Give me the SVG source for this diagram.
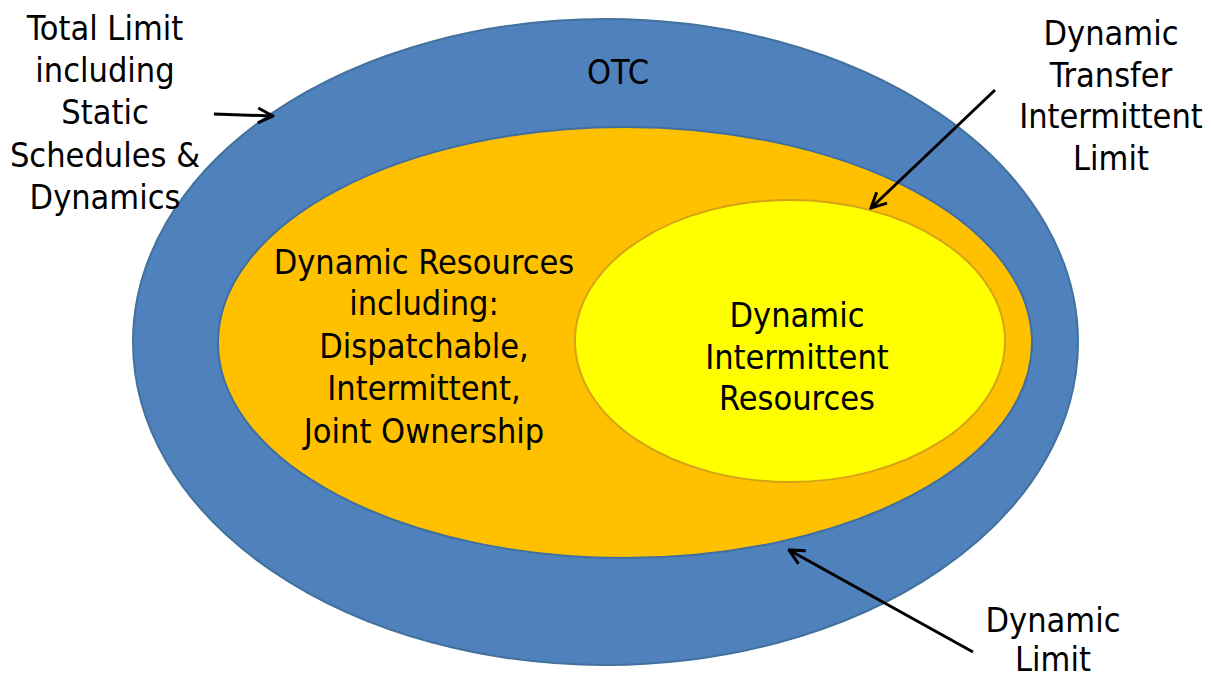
<svg xmlns="http://www.w3.org/2000/svg" width="1211" height="677" viewBox="0 0 1211 677">
<style>
text{font-family:"DejaVu Sans Condensed","DejaVu Sans",sans-serif;font-size:34px;fill:#000;text-anchor:middle}
.conn{stroke:#000;stroke-width:3;fill:none}
</style>
<defs>
<marker id="ah" viewBox="0 0 12 12" refX="11" refY="6" markerWidth="6" markerHeight="6" orient="auto" markerUnits="strokeWidth">
<polyline points="1,1 11,6 1,11" fill="none" stroke="#000" stroke-width="2"/>
</marker>
</defs>
<rect width="1211" height="677" fill="#fff"/>
<g id="otc">
<ellipse cx="605.5" cy="342" rx="472.5" ry="323" fill="#4F81BD" stroke="#41719C" stroke-width="2"/>
<text x="618" y="84">OTC</text>
</g>
<g id="dynamic-resources">
<ellipse cx="625" cy="342.5" rx="407" ry="215.5" fill="#FFC000" stroke="#3F6FA0" stroke-width="2"/>
<text x="424" y="274">Dynamic Resources</text>
<text x="424" y="315">including:</text>
<text x="424" y="358">Dispatchable,</text>
<text x="424" y="400">Intermittent,</text>
<text x="424" y="443">Joint Ownership</text>
</g>
<g id="intermittent">
<ellipse cx="790" cy="341" rx="215" ry="141" fill="#FFFF00" stroke="#D4A317" stroke-width="2"/>
<text x="797" y="327">Dynamic</text>
<text x="797" y="369">Intermittent</text>
<text x="797" y="410">Resources</text>
</g>
<g id="label-total">
<text x="105" y="40">Total Limit</text>
<text x="105" y="82">including</text>
<text x="105" y="124">Static</text>
<text x="105" y="167">Schedules &amp;</text>
<text x="105" y="209">Dynamics</text>
</g>
<g id="label-transfer">
<text x="1111" y="45">Dynamic</text>
<text x="1111" y="87">Transfer</text>
<text x="1111" y="128">Intermittent</text>
<text x="1111" y="170">Limit</text>
</g>
<g id="label-dynlimit">
<text x="1053" y="632">Dynamic</text>
<text x="1053" y="671">Limit</text>
</g>
<g id="connectors">
<line class="conn" x1="214" y1="114" x2="273" y2="116" marker-end="url(#ah)"/>
<line class="conn" x1="995" y1="90" x2="871" y2="208" marker-end="url(#ah)"/>
<line class="conn" x1="973" y1="652" x2="789" y2="550" marker-end="url(#ah)"/>
</g>
</svg>
